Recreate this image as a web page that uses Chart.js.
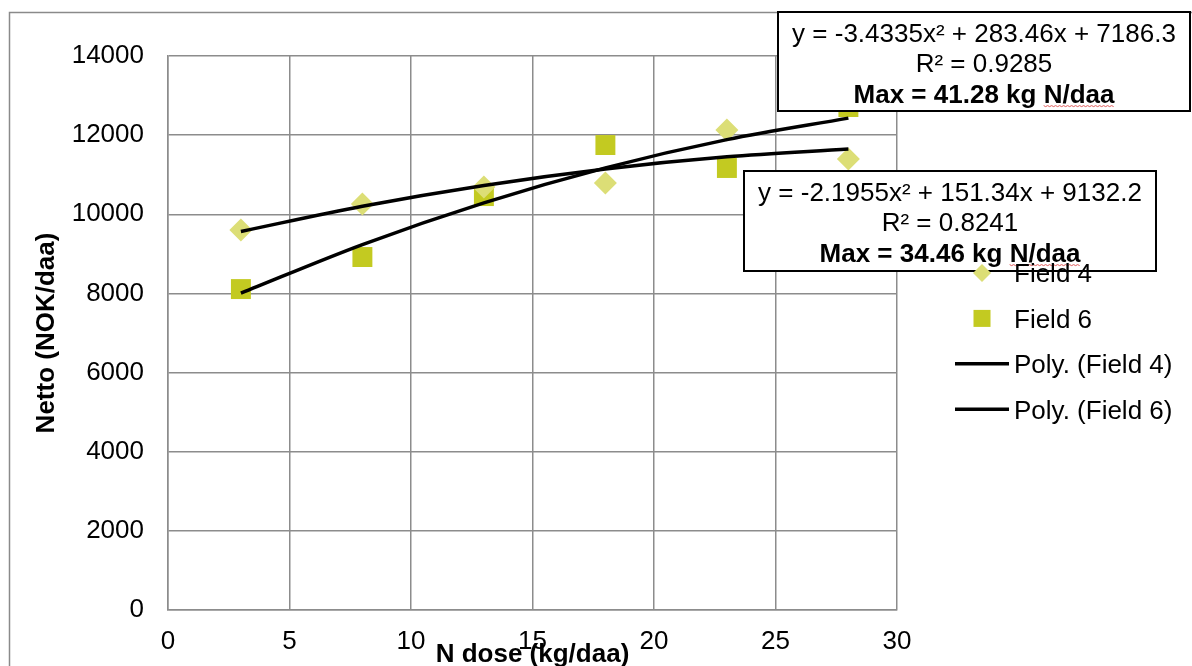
<!DOCTYPE html>
<html>
<head>
<meta charset="utf-8">
<script src="https://cdn.jsdelivr.net/npm/chart.js@4.4.1/dist/chart.umd.min.js"></script>
<style>
    html, body { margin: 0; padding: 0; background: #fff; }
    #chart { display: block; }
</style>
</head>
<body>
<canvas id="chart" width="1192" height="666"></canvas>
<script>
var doses = [3, 8, 13, 18, 23, 28];
var field4 = [9600, 10260, 10690, 10790, 12130, 11400];
var field6 = [8110, 8920, 10460, 11750, 11170, 12710];
var polyField4 = [9566, 10203, 10728, 11145, 11451, 11648];
var polyField6 = [8006, 9234, 10290, 11174, 11887, 12430];
var xTicks = [0, 5, 10, 15, 20, 25, 30];
var yTicks = [0, 2000, 4000, 6000, 8000, 10000, 12000, 14000];
var legendLabels = ['Field 4', 'Field 6', 'Poly. (Field 4)', 'Poly. (Field 6)'];
var fit6Text = ['y = -3.4335x\u00B2 + 283.46x + 7186.3', 'R\u00B2 = 0.9285', 'Max = 41.28 kg N/daa'];
var fit4Text = ['y = -2.1955x\u00B2 + 151.34x + 9132.2', 'R\u00B2 = 0.8241', 'Max = 34.46 kg N/daa'];

(() => {
    var FONT = "'Liberation Sans', Arial, sans-serif";
    var GRID = '#8c8c8c';
    var DIAMOND = '#dcde76';
    var SQUARE = '#c3ca21';

    var toPoints = (ys) => doses.map((x, i) => ({ x: x, y: ys[i] }));

    /* text boxes with the trendline equations */
    var drawFitBox = (ctx, box, lines) => {
        ctx.save();
        ctx.fillStyle = '#fff';
        ctx.fillRect(box.x, box.y, box.w, box.h);
        ctx.strokeStyle = '#000';
        ctx.lineWidth = 2;
        ctx.strokeRect(box.x, box.y, box.w, box.h);

        var cx = box.x + box.w / 2;
        ctx.fillStyle = '#000';
        ctx.textAlign = 'left';
        ctx.textBaseline = 'alphabetic';
        lines.forEach((t, i) => {
            ctx.font = (i == 2 ? 'bold ' : '') + '26px ' + FONT;
            var w = ctx.measureText(t).width;
            var left = cx - w / 2;
            var base = box.y + 29.5 + i * 30.8;
            ctx.fillText(t, left, base);

            if (i == 2) {
                // spell checker squiggle under "N/daa"
                var start = left + ctx.measureText(t.slice(0, t.indexOf('N/'))).width;
                ctx.strokeStyle = '#e05a5a';
                ctx.lineWidth = 1;
                ctx.beginPath();
                for (var sx = start, k = 0; sx <= left + w; sx += 2, k++) {
                    var sy = base + 2.5 + (k % 2 ? 1 : 0);
                    if (k == 0) ctx.moveTo(sx, sy); else ctx.lineTo(sx, sy);
                }
                ctx.stroke();
            }
        });
        ctx.restore();
    };

    var drawLegend = (chart) => {
        var ctx = chart.ctx;
        var sets = chart.data.datasets;
        var order = [2, 3, 0, 1];
        ctx.save();
        ctx.font = '26px ' + FONT;
        ctx.textBaseline = 'alphabetic';
        ctx.textAlign = 'left';
        order.forEach((di, i) => {
            var ds = sets[di];
            var y = 273 + i * 45.4;
            var mx = 982;
            if (ds.showLine) {
                ctx.strokeStyle = ds.borderColor;
                ctx.lineWidth = ds.borderWidth;
                ctx.beginPath();
                ctx.moveTo(955, y);
                ctx.lineTo(1009, y);
                ctx.stroke();
            } else if (ds.pointStyle == 'rectRot') {
                ctx.fillStyle = ds.backgroundColor;
                ctx.beginPath();
                ctx.moveTo(mx - 9, y);
                ctx.lineTo(mx, y - 9);
                ctx.lineTo(mx + 9, y);
                ctx.lineTo(mx, y + 9);
                ctx.closePath();
                ctx.fill();
            } else {
                ctx.fillStyle = ds.backgroundColor;
                ctx.fillRect(mx - 8.5, y - 8.5, 17, 17);
            }
            ctx.fillStyle = '#000';
            ctx.fillText(ds.label, 1014, y + 9.3);
        });
        ctx.restore();
    };

    var extras = {
        id: 'extras',
        beforeDraw: (chart) => {
            var ctx = chart.ctx;
            ctx.save();
            ctx.fillStyle = '#fff';
            ctx.fillRect(0, 0, chart.width, chart.height);
            ctx.strokeStyle = '#8a8a8a';
            ctx.lineWidth = 1.5;
            ctx.strokeRect(9.5, 12.5, 1200, 700);
            ctx.restore();
        },
        afterDraw: (chart) => {
            drawFitBox(chart.ctx, { x: 778, y: 12, w: 412, h: 99 }, fit6Text);
            drawFitBox(chart.ctx, { x: 744, y: 171, w: 412, h: 100 }, fit4Text);
            drawLegend(chart);
        }
    };

    Chart.defaults.font.family = FONT;
    Chart.defaults.font.size = 26;
    Chart.defaults.color = '#000';

    var config = {
        type: 'scatter',
        data: {
            datasets: [
                {
                    label: legendLabels[2],
                    data: toPoints(polyField4),
                    showLine: true,
                    borderColor: '#000',
                    borderWidth: 3.5,
                    pointRadius: 0,
                    cubicInterpolationMode: 'monotone',
                    order: 0
                },
                {
                    label: legendLabels[3],
                    data: toPoints(polyField6),
                    showLine: true,
                    borderColor: '#000',
                    borderWidth: 3.5,
                    pointRadius: 0,
                    cubicInterpolationMode: 'monotone',
                    order: 0
                },
                {
                    label: legendLabels[0],
                    data: toPoints(field4),
                    pointStyle: 'rectRot',
                    pointRadius: 11.5,
                    backgroundColor: DIAMOND,
                    borderColor: DIAMOND,
                    borderWidth: 0,
                    order: 1
                },
                {
                    label: legendLabels[1],
                    data: toPoints(field6),
                    pointStyle: 'rect',
                    pointRadius: 14.1,
                    backgroundColor: SQUARE,
                    borderColor: SQUARE,
                    borderWidth: 0,
                    order: 1
                }
            ]
        },
        options: {
            responsive: false,
            devicePixelRatio: 1,
            animation: false,
            layout: { padding: { left: 0, top: 56, right: 295, bottom: 0 } },
            scales: {
                x: {
                    type: 'linear',
                    min: 0,
                    max: 30,
                    afterBuildTicks: (s) => { s.ticks = xTicks.map(v => ({ value: v })); },
                    afterFit: (s) => { s.height = 56; },
                    grid: { color: GRID, lineWidth: 1.5, drawTicks: false },
                    border: { color: GRID, width: 1.5 },
                    ticks: { padding: 16, maxRotation: 0, callback: (v) => String(v) },
                    title: {
                        display: true,
                        text: 'N dose (kg/daa)',
                        font: { weight: 'bold', size: 26, lineHeight: 0.8 },
                        padding: { top: 0.6, bottom: 0.6 }
                    }
                },
                y: {
                    type: 'linear',
                    min: 0,
                    max: 14000,
                    afterBuildTicks: (s) => { s.ticks = yTicks.map(v => ({ value: v })); },
                    afterFit: (s) => { s.width = 168; },
                    grid: { color: GRID, lineWidth: 1.5, drawTicks: false },
                    border: { color: GRID, width: 1.5 },
                    ticks: { padding: 24, callback: (v) => String(v) },
                    title: {
                        display: true,
                        text: 'Netto (NOK/daa)',
                        font: { weight: 'bold', size: 26, lineHeight: 0.8 },
                        padding: { top: 36.6, bottom: 36.6 }
                    }
                }
            },
            plugins: {
                legend: { display: false },
                title: { display: false },
                tooltip: { enabled: false }
            }
        },
        plugins: [extras]
    };

    new Chart(document.getElementById('chart'), config);
})();
</script>
</body>
</html>
